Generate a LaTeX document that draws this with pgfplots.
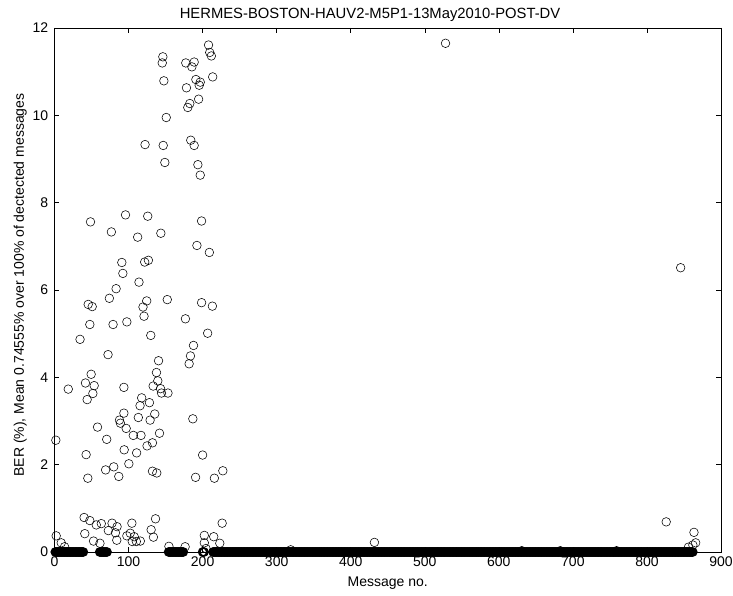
\documentclass[border=0pt]{standalone}
\usepackage{fontspec}
\setmainfont{Liberation Sans}
\usepackage{pgfplots}
\pgfplotsset{compat=1.18}
\begin{document}
\fontsize{14bp}{16bp}\selectfont
\begin{tikzpicture}
\useasboundingbox (-54.5bp,-44bp) rectangle (678.5bp,552bp);
\begin{axis}[
  at={(0,0)}, anchor=south west,
  width=666.5bp, height=524bp, scale only axis,
  xmin=0, xmax=900, ymin=0, ymax=12,
  xtick={0,100,...,900}, ytick={0,2,...,12},
  tick align=inside, major tick length=5bp,
  axis line style={line width=0.5bp},
  tick style={line width=0.5bp, black},
  clip=false,
  /pgf/number format/assume math mode=true,
  tick label style={font=\fontsize{14bp}{16bp}\selectfont},
  yticklabel style={xshift=-1.5bp},
  title={HERMES-BOSTON-HAUV2-M5P1-13May2010-POST-DV},
  xlabel={Message no.},
  ylabel={BER (\%), Mean 0.74555\% over 100\% of dectected messages},
  every axis title/.style={at={(axis description cs:0.4734,1.0172)}, anchor=base, font=\fontsize{14.8bp}{16bp}\selectfont},
  every axis x label/.style={at={(axis description cs:0.5,-0.0649)}, anchor=base, font=\fontsize{14bp}{16bp}\selectfont},
  every axis y label/.style={at={(axis description cs:-0.0458,0.5095)}, rotate=90, anchor=base, font=\fontsize{14bp}{16bp}\selectfont},
]
\addplot[only marks, mark=o, mark size=4.3bp, black, mark options={line width=0.55bp}] coordinates {
(208,11.61)(209.6,11.44)(211.8,11.36)(146.3,11.34)(145.5,11.2)(177.3,11.2)(188.6,11.22)(185.5,11.11)
(147.7,10.79)(213.6,10.88)(190.9,10.82)(196.8,10.76)(195.4,10.69)(178.2,10.63)(194.6,10.37)(182.7,10.27)
(180,10.18)(150.9,9.95)(146.8,9.31)(184,9.43)(188.6,9.31)(122.3,9.33)(149,8.92)(193.6,8.87)(196.8,8.63)
(528,11.65)(845.5,6.51)
(48.6,7.56)(95.9,7.72)(125.9,7.69)(198.6,7.58)(76.8,7.33)(112.3,7.21)(143.6,7.30)(192.3,7.02)(209.1,6.86)
(90.9,6.63)(121.8,6.64)(126.8,6.68)(92.3,6.38)(114.1,6.18)(83.2,6.03)(74.1,5.81)(124.5,5.75)(152.3,5.78)
(198.6,5.71)(213.2,5.63)(45.5,5.67)(50.9,5.62)(119.5,5.61)(120.9,5.40)(176.8,5.34)(47.7,5.21)(79.1,5.21)
(97.7,5.27)(130,4.96)(206.8,5.01)(34.5,4.87)(187.7,4.73)(72.3,4.52)(183.6,4.49)(140.5,4.38)(181.8,4.31)
(49.5,4.07)(137.7,4.11)(41.8,3.87)(53.6,3.81)(18.6,3.73)(93.7,3.77)(133.2,3.80)(139.5,3.92)(143.2,3.74)
(153.2,3.64)(144.5,3.64)(51.8,3.63)(44.1,3.49)(117.7,3.53)(128.2,3.42)(115.5,3.35)(93.7,3.18)(135.4,3.16)
(186.8,3.05)(113.2,3.08)(129.1,3.02)(87.7,3.02)(89,2.95)(96.8,2.83)(58.1,2.86)(141.8,2.72)(106.4,2.67)
(116.8,2.67)(70.5,2.58)(1.8,2.56)(132.3,2.50)(125,2.43)(94.1,2.34)(110.9,2.27)(42.7,2.23)(200,2.22)
(100.4,2.02)(80,1.95)(69,1.88)(132.3,1.85)(138.1,1.81)(227.3,1.86)(86.8,1.73)(45,1.69)(190.5,1.71)(215.9,1.69)
(40,0.79)(47.7,0.72)(56.4,0.62)(63.2,0.65)(77.7,0.66)(84.5,0.58)(104.5,0.66)(136.4,0.76)(226.4,0.66)
(40.9,0.42)(72.7,0.49)(82.3,0.44)(130.5,0.51)(133.6,0.34)(97.7,0.37)(102.3,0.43)(107.7,0.35)(105,0.24)
(110.5,0.24)(2.3,0.37)(52.7,0.25)(61.4,0.20)(84.1,0.27)(9.1,0.21)(13.6,0.12)(115.9,0.25)(154.5,0.13)
(176.4,0.12)(202.3,0.38)(215,0.35)(202.3,0.21)(223.2,0.20)(204.5,0.08)(432,0.22)(826,0.69)(863.5,0.45)
(865.8,0.21)(862,0.16)(856,0.11)(319,0.05)(631,0.03)(683,0.03)(759,0.03)
};
\addplot[only marks, mark=o, mark size=4.1bp, black, mark options={line width=1.3bp}] coordinates {
(1,0)(3,0)(5,0)(7,0)(9,0)(11,0)(13,0)(15,0)(17,0)(19,0)(21,0)(23,0)(25,0)(27,0)(29,0)(31,0)(33,0)(35,0)(37,0)(39,0)
(2,0)(4,0)(6,0)(8,0)(10,0)(12,0)(14,0)(16,0)(18,0)(20,0)(22,0)(24,0)(26,0)(28,0)(30,0)(32,0)(34,0)(36,0)(38,0)
(61,0)(62,0)(63,0)(64,0)(65,0)(66,0)(67,0)(68,0)(69,0)(70,0)(71,0)
(154,0)(155,0)(156,0)(157,0)(158,0)(159,0)(160,0)(161,0)(162,0)(163,0)(164,0)(165,0)(166,0)(167,0)(168,0)(169,0)(170,0)(171,0)(172,0)(173,0)(174,0)
(200,0)(201,0)(202,0)
(214,0)(216,0)(218,0)
(220,0)(222,0)(224,0)(226,0)(228,0)(230,0)(232,0)(234,0)(236,0)(238,0)
(240,0)(242,0)(244,0)(246,0)(248,0)(250,0)(252,0)(254,0)(256,0)(258,0)
(260,0)(262,0)(264,0)(266,0)(268,0)(270,0)(272,0)(274,0)(276,0)(278,0)
(280,0)(282,0)(284,0)(286,0)(288,0)(290,0)(292,0)(294,0)(296,0)(298,0)
(300,0)(302,0)(304,0)(306,0)(308,0)(310,0)(312,0)(314,0)(316,0)(318,0)
(320,0)(322,0)(324,0)(326,0)(328,0)(330,0)(332,0)(334,0)(336,0)(338,0)
(340,0)(342,0)(344,0)(346,0)(348,0)(350,0)(352,0)(354,0)(356,0)(358,0)
(360,0)(362,0)(364,0)(366,0)(368,0)(370,0)(372,0)(374,0)(376,0)(378,0)
(380,0)(382,0)(384,0)(386,0)(388,0)(390,0)(392,0)(394,0)(396,0)(398,0)
(400,0)(402,0)(404,0)(406,0)(408,0)(410,0)(412,0)(414,0)(416,0)(418,0)
(420,0)(422,0)(424,0)(426,0)(428,0)(430,0)(432,0)(434,0)(436,0)(438,0)
(440,0)(442,0)(444,0)(446,0)(448,0)(450,0)(452,0)(454,0)(456,0)(458,0)
(460,0)(462,0)(464,0)(466,0)(468,0)(470,0)(472,0)(474,0)(476,0)(478,0)
(480,0)(482,0)(484,0)(486,0)(488,0)(490,0)(492,0)(494,0)(496,0)(498,0)
(500,0)(502,0)(504,0)(506,0)(508,0)(510,0)(512,0)(514,0)(516,0)(518,0)
(520,0)(522,0)(524,0)(526,0)(528,0)(530,0)(532,0)(534,0)(536,0)(538,0)
(540,0)(542,0)(544,0)(546,0)(548,0)(550,0)(552,0)(554,0)(556,0)(558,0)
(560,0)(562,0)(564,0)(566,0)(568,0)(570,0)(572,0)(574,0)(576,0)(578,0)
(580,0)(582,0)(584,0)(586,0)(588,0)(590,0)(592,0)(594,0)(596,0)(598,0)
(600,0)(602,0)(604,0)(606,0)(608,0)(610,0)(612,0)(614,0)(616,0)(618,0)
(620,0)(622,0)(624,0)(626,0)(628,0)(630,0)(632,0)(634,0)(636,0)(638,0)
(640,0)(642,0)(644,0)(646,0)(648,0)(650,0)(652,0)(654,0)(656,0)(658,0)
(660,0)(662,0)(664,0)(666,0)(668,0)(670,0)(672,0)(674,0)(676,0)(678,0)
(680,0)(682,0)(684,0)(686,0)(688,0)(690,0)(692,0)(694,0)(696,0)(698,0)
(700,0)(702,0)(704,0)(706,0)(708,0)(710,0)(712,0)(714,0)(716,0)(718,0)
(720,0)(722,0)(724,0)(726,0)(728,0)(730,0)(732,0)(734,0)(736,0)(738,0)
(740,0)(742,0)(744,0)(746,0)(748,0)(750,0)(752,0)(754,0)(756,0)(758,0)
(760,0)(762,0)(764,0)(766,0)(768,0)(770,0)(772,0)(774,0)(776,0)(778,0)
(780,0)(782,0)(784,0)(786,0)(788,0)(790,0)(792,0)(794,0)(796,0)(798,0)
(800,0)(802,0)(804,0)(806,0)(808,0)(810,0)(812,0)(814,0)(816,0)(818,0)
(820,0)(822,0)(824,0)(826,0)(828,0)(830,0)(832,0)(834,0)(836,0)(838,0)
(840,0)(842,0)(844,0)(846,0)(848,0)(850,0)(852,0)(854,0)(856,0)(858,0)
(860,0)(862,0)
(215,0)(217,0)(219,0)
(221,0)(223,0)(225,0)(227,0)(229,0)(231,0)(233,0)(235,0)(237,0)(239,0)
(241,0)(243,0)(245,0)(247,0)(249,0)(251,0)(253,0)(255,0)(257,0)(259,0)
(261,0)(263,0)(265,0)(267,0)(269,0)(271,0)(273,0)(275,0)(277,0)(279,0)
(281,0)(283,0)(285,0)(287,0)(289,0)(291,0)(293,0)(295,0)(297,0)(299,0)
(301,0)(303,0)(305,0)(307,0)(309,0)(311,0)(313,0)(315,0)(317,0)(319,0)
(321,0)(323,0)(325,0)(327,0)(329,0)(331,0)(333,0)(335,0)(337,0)(339,0)
(341,0)(343,0)(345,0)(347,0)(349,0)(351,0)(353,0)(355,0)(357,0)(359,0)
(361,0)(363,0)(365,0)(367,0)(369,0)(371,0)(373,0)(375,0)(377,0)(379,0)
(381,0)(383,0)(385,0)(387,0)(389,0)(391,0)(393,0)(395,0)(397,0)(399,0)
(401,0)(403,0)(405,0)(407,0)(409,0)(411,0)(413,0)(415,0)(417,0)(419,0)
(421,0)(423,0)(425,0)(427,0)(429,0)(431,0)(433,0)(435,0)(437,0)(439,0)
(441,0)(443,0)(445,0)(447,0)(449,0)(451,0)(453,0)(455,0)(457,0)(459,0)
(461,0)(463,0)(465,0)(467,0)(469,0)(471,0)(473,0)(475,0)(477,0)(479,0)
(481,0)(483,0)(485,0)(487,0)(489,0)(491,0)(493,0)(495,0)(497,0)(499,0)
(501,0)(503,0)(505,0)(507,0)(509,0)(511,0)(513,0)(515,0)(517,0)(519,0)
(521,0)(523,0)(525,0)(527,0)(529,0)(531,0)(533,0)(535,0)(537,0)(539,0)
(541,0)(543,0)(545,0)(547,0)(549,0)(551,0)(553,0)(555,0)(557,0)(559,0)
(561,0)(563,0)(565,0)(567,0)(569,0)(571,0)(573,0)(575,0)(577,0)(579,0)
(581,0)(583,0)(585,0)(587,0)(589,0)(591,0)(593,0)(595,0)(597,0)(599,0)
(601,0)(603,0)(605,0)(607,0)(609,0)(611,0)(613,0)(615,0)(617,0)(619,0)
(621,0)(623,0)(625,0)(627,0)(629,0)(631,0)(633,0)(635,0)(637,0)(639,0)
(641,0)(643,0)(645,0)(647,0)(649,0)(651,0)(653,0)(655,0)(657,0)(659,0)
(661,0)(663,0)(665,0)(667,0)(669,0)(671,0)(673,0)(675,0)(677,0)(679,0)
(681,0)(683,0)(685,0)(687,0)(689,0)(691,0)(693,0)(695,0)(697,0)(699,0)
(701,0)(703,0)(705,0)(707,0)(709,0)(711,0)(713,0)(715,0)(717,0)(719,0)
(721,0)(723,0)(725,0)(727,0)(729,0)(731,0)(733,0)(735,0)(737,0)(739,0)
(741,0)(743,0)(745,0)(747,0)(749,0)(751,0)(753,0)(755,0)(757,0)(759,0)
(761,0)(763,0)(765,0)(767,0)(769,0)(771,0)(773,0)(775,0)(777,0)(779,0)
(781,0)(783,0)(785,0)(787,0)(789,0)(791,0)(793,0)(795,0)(797,0)(799,0)
(801,0)(803,0)(805,0)(807,0)(809,0)(811,0)(813,0)(815,0)(817,0)(819,0)
(821,0)(823,0)(825,0)(827,0)(829,0)(831,0)(833,0)(835,0)(837,0)(839,0)
(841,0)(843,0)(845,0)(847,0)(849,0)(851,0)(853,0)(855,0)(857,0)(859,0)
(861,0)
};
\end{axis}
\end{tikzpicture}
\end{document}
